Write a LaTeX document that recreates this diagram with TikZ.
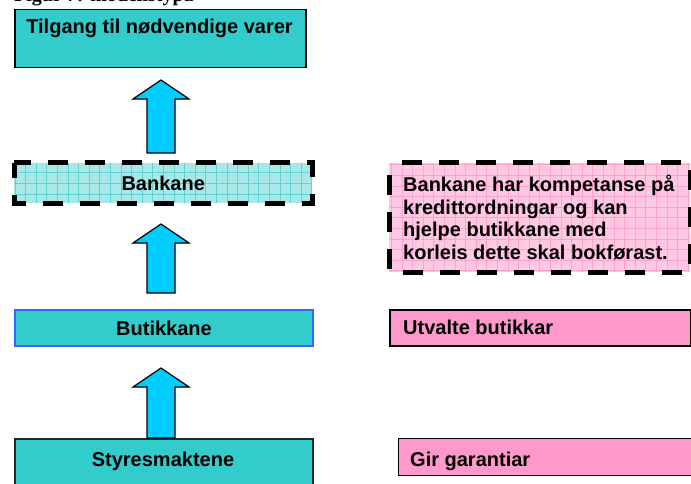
\documentclass[tikz,border=0pt]{standalone}
\usepackage{fontspec}
\setmainfont{Liberation Sans}
\newfontfamily\titlefont{Liberation Serif}
\definecolor{tealbox}{HTML}{33CCCC}
\definecolor{tealpale}{HTML}{A8E8E8}
\definecolor{tealgrid}{HTML}{5ED3D3}
\definecolor{pinkbox}{HTML}{FF99CC}
\definecolor{pinkpale}{HTML}{FFC9E4}
\definecolor{pinkgrid}{HTML}{FFA0CF}
\definecolor{arrowblue}{HTML}{00CCFF}
\definecolor{edgeblue}{HTML}{3366FF}
\tikzset{
  lbl/.style={font=\bfseries\fontsize{20}{22.5}\selectfont, inner sep=0pt},
  solidbox/.style={draw=black, line width=1.5pt, fill=tealbox, inner sep=0pt},
  pinksolid/.style={draw=black, line width=1.8pt, fill=pinkbox, inner sep=0pt},
  dashbox/.style={draw=black, line width=5pt, dash pattern=on 20pt off 17pt, inner sep=0pt},
  blockarrow/.style={draw=black, line width=1.2pt, fill=arrowblue, line join=miter},
}
\newcommand\uparrowshape[3]{% x center, y bottom, y tip
  \draw[blockarrow] (#1-14,#2) -- (#1-14,#3+19) -- (#1-28,#3+19) -- (#1,#3)
    -- (#1+28,#3+19) -- (#1+14,#3+19) -- (#1+14,#2) -- cycle;}
\begin{document}
\begin{tikzpicture}[x=1pt,y=-1pt]
\useasboundingbox (0,0) rectangle (691,484);
\clip (0,0) rectangle (691,484);
\fill[white] (0,0) rectangle (691,484);

% cut-off title
\node[font=\titlefont\bfseries\fontsize{20}{24}\selectfont, anchor=base west, inner sep=0pt] (title) at (14,2) {Figur 7: modellstypa};

% left column
\node[solidbox, minimum width=291pt, minimum height=58pt, anchor=north west] (tilgang) at (14,9) {};
\node[lbl, anchor=base] (tilgangtxt) at (159.5,34) {Tilgang til nødvendige varer};

\node[fill=tealpale, inner sep=0pt, minimum width=298pt, minimum height=40pt, anchor=north west,
  path picture={\draw[tealgrid, line width=0.6pt, step=10.6pt] (path picture bounding box.south west) grid (path picture bounding box.north east);}] (bankane) at (14,163) {};
\draw[dashbox, dash phase=5pt] (bankane.north west) rectangle (bankane.south east);
\node[lbl] (bankanetxt) at (bankane.center) {Bankane};

\node[draw=edgeblue, line width=2pt, fill=tealbox, inner sep=0pt, minimum width=298pt, minimum height=36pt, anchor=north west] (butikkane) at (14,309) {};
\node[lbl] (butikkanetxt) at (butikkane.center) {Butikkane};

\node[draw=black!85, line width=1.5pt, fill=tealbox, inner sep=0pt, minimum width=298pt, minimum height=60pt, anchor=north west] (styres) at (14,438) {};
\node[lbl, anchor=base] (styrestxt) at (163,466) {Styresmaktene};

% block arrows
\uparrowshape{161}{153}{80}
\uparrowshape{161}{293}{224}
\uparrowshape{161}{438}{368}

% right column
\node[fill=pinkpale, inner sep=0pt, minimum width=301pt, minimum height=109pt, anchor=north west,
  path picture={\draw[pinkgrid, line width=0.6pt, step=10.6pt] (path picture bounding box.south west) grid (path picture bounding box.north east);}] (kompetanse) at (389,163) {};
\draw[dashbox, dash phase=-12pt] (kompetanse.north west) rectangle (kompetanse.south east);
\node[lbl, anchor=north west, align=left] (kompetansetxt) at (403,175) {Bankane har kompetanse på\\kredittordningar og kan\\hjelpe butikkane med\\korleis dette skal bokførast.};

\node[pinksolid, minimum width=301pt, minimum height=36pt, anchor=north west] (utvalte) at (389,309) {};
\node[lbl, anchor=base west] (utvaltetxt) at (403,334) {Utvalte butikkar};

\node[draw=black, line width=1.3pt, fill=pinkbox, inner sep=0pt, minimum width=300pt, minimum height=37pt, anchor=north west] (gir) at (398,438) {};
\node[lbl, anchor=base west] (girtxt) at (410,466) {Gir garantiar};
\end{tikzpicture}
\end{document}
